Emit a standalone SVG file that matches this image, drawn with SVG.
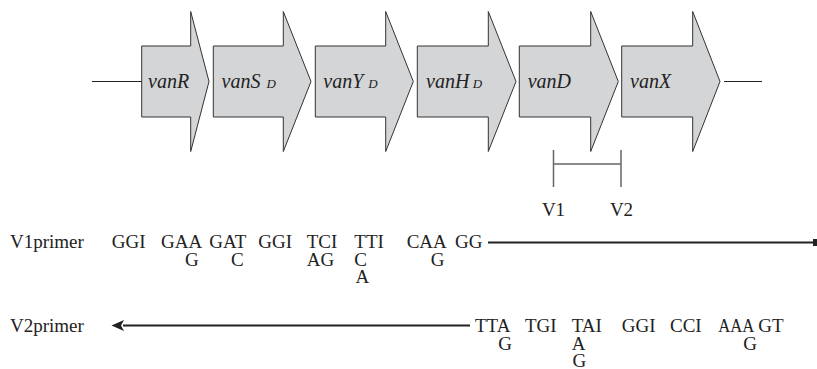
<svg xmlns="http://www.w3.org/2000/svg" width="817" height="369" viewBox="0 0 817 369">
<style>
.gene{fill:#d4d5d7;stroke:#333;stroke-width:1}
.lbl{font-family:"Liberation Serif",serif;font-style:italic;font-size:20px;fill:#222}
.sub{font-family:"Liberation Serif",serif;font-style:italic;font-size:13px;fill:#222}
.t{font-family:"Liberation Serif",serif;font-size:19px;fill:#222}
.ln{stroke:#222;stroke-width:1.2;fill:none}
.br{stroke:#666;stroke-width:1.5;fill:none}
.pl{stroke:#222;stroke-width:2.2;fill:none}
</style>
<g id="connectors">
<line class="ln" x1="92" y1="81.5" x2="142" y2="81.5"/>
<line class="ln" x1="724" y1="81.5" x2="762" y2="81.5"/>
<path class="br" d="M553.5,150 V187 M621,150 V187 M553.5,164 H621"/>
<line class="pl" x1="488" y1="242.5" x2="815" y2="242.5"/>
<rect x="813" y="239" width="4" height="7" fill="#222"/>
<line class="pl" x1="123" y1="325.5" x2="470" y2="325.5"/>
<path d="M111.5,325.5 L124,320 L121,325.5 L124,331 Z" fill="#222"/>
</g>
<g id="vanR">
<path class="gene" d="M141.7,46 H190.7 V11.5 L209,81.5 L190.7,151.5 V117 H141.7 Z"/>
<text class="lbl" x="148" y="88">vanR</text>
</g>
<g id="vanS">
<path class="gene" d="M213.3,46 H283.3 V11.5 L311,81.5 L283.3,151.5 V117 H213.3 Z"/>
<text class="lbl" x="221.5" y="88">vanS</text>
<text class="sub" x="266.5" y="88">D</text>
</g>
<g id="vanY">
<path class="gene" d="M315.3,46 H385.7 V11.5 L413.3,81.5 L385.7,151.5 V117 H315.3 Z"/>
<text class="lbl" x="323.3" y="88">vanY</text>
<text class="sub" x="368.3" y="88">D</text>
</g>
<g id="vanH">
<path class="gene" d="M417.3,46 H488.3 V11.5 L516,81.5 L488.3,151.5 V117 H417.3 Z"/>
<text class="lbl" x="426" y="88">vanH</text>
<text class="sub" x="472.7" y="88">D</text>
</g>
<g id="vanD">
<path class="gene" d="M519.3,46 H590.7 V11.5 L618.3,81.5 L590.7,151.5 V117 H519.3 Z"/>
<text class="lbl" x="527.7" y="88">vanD</text>
</g>
<g id="vanX">
<path class="gene" d="M621.7,46 H692.7 V11.5 L720,81.5 L692.7,151.5 V117 H621.7 Z"/>
<text class="lbl" x="630" y="88">vanX</text>
</g>
<g id="markers">
<text class="t" x="553.5" y="215.5" text-anchor="middle">V1</text>
<text class="t" x="621.5" y="215.5" text-anchor="middle">V2</text>
</g>
<g id="v1primer">
<text class="t" x="10" y="248">V1primer</text>
<text class="t" x="111.7" y="248">GGI</text>
<text class="t" x="161" y="248">GAA</text>
<text class="t" x="185" y="265.5">G</text>
<text class="t" x="209.3" y="248">GAT</text>
<text class="t" x="231" y="265.5">C</text>
<text class="t" x="258.3" y="248">GGI</text>
<text class="t" x="306.7" y="248">TCI</text>
<text class="t" x="306.7" y="265.5">AG</text>
<text class="t" x="354.3" y="248">TTI</text>
<text class="t" x="354.3" y="265.5">C</text>
<text class="t" x="355.5" y="283">A</text>
<text class="t" x="406.7" y="248">CAA</text>
<text class="t" x="430.7" y="265.5">G</text>
<text class="t" x="455" y="248">GG</text>
</g>
<g id="v2primer">
<text class="t" x="10" y="332">V2primer</text>
<text class="t" x="475" y="332">TTA</text>
<text class="t" x="498.3" y="349.5">G</text>
<text class="t" x="525" y="332">TGI</text>
<text class="t" x="571.7" y="332">TAI</text>
<text class="t" x="571.7" y="349.5">A</text>
<text class="t" x="572.5" y="367">G</text>
<text class="t" x="621.7" y="332">GGI</text>
<text class="t" x="670" y="332">CCI</text>
<text class="t" x="718.3" y="332" textLength="36" lengthAdjust="spacingAndGlyphs">AAA</text>
<text class="t" x="743.3" y="349.5">G</text>
<text class="t" x="758.3" y="332">GT</text>
</g>
</svg>
